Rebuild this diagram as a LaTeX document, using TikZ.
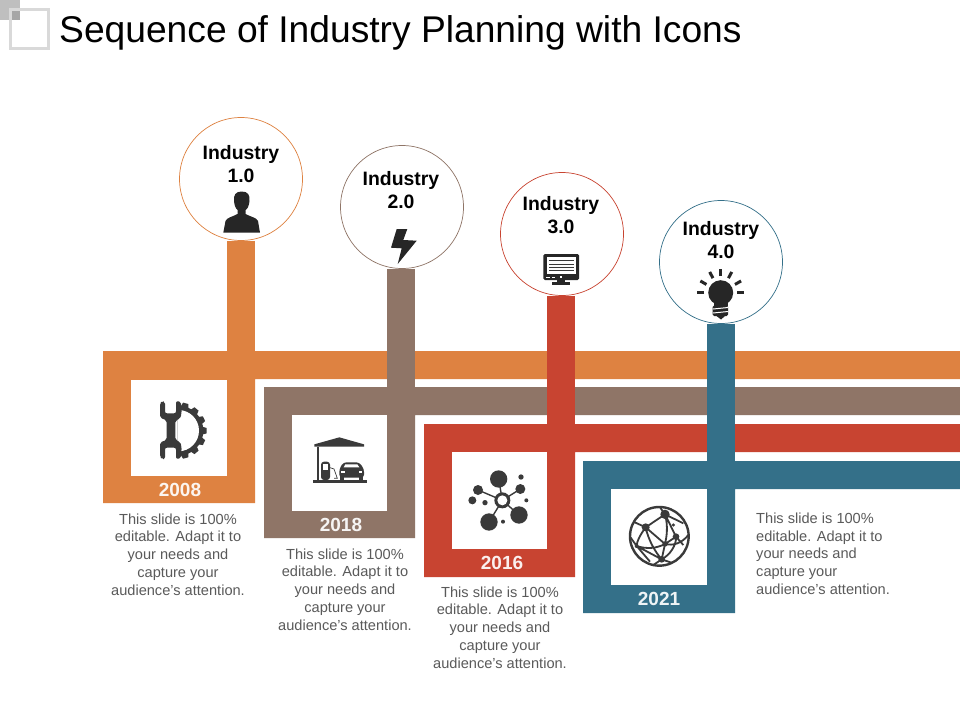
\documentclass[tikz,border=0pt]{standalone}
\usepackage{fontspec}
\setmainfont{Liberation Sans}
\definecolor{cOr}{HTML}{DE8241}
\definecolor{cBr}{HTML}{8F7567}
\definecolor{cRe}{HTML}{C84431}
\definecolor{cBl}{HTML}{347089}
\definecolor{cIc}{HTML}{3A3A3A}
\definecolor{cTx}{HTML}{5A5A5A}
\definecolor{cPe}{HTML}{262626}
\tikzset{
  x=1pt,y=-1pt,
  whitebox/.style={fill=white,draw=none,minimum width=96pt,minimum height=96pt,inner sep=0,anchor=north west},
  ring/.style={circle,fill=white,draw=#1,line width=0.7pt,minimum size=123pt,inner sep=0},
  stem/.style={line width=28pt,draw=#1,line cap=butt},
  lab/.style={font=\fontsize{19.4}{23}\selectfont\bfseries,text=black,align=center,inner sep=0},
  yearlab/.style={font=\fontsize{19}{22}\selectfont\bfseries,text=#1,inner sep=0},
  body/.style={font=\fontsize{14.6}{17.8}\selectfont,text=cTx,align=center,inner sep=0},
  zoomA/.style={shift={(100,345)},scale=1/3},
  zoomB/.style={shift={(420,420)},scale=1/3},
}
\begin{document}
\begin{tikzpicture}
\useasboundingbox (0,0) rectangle (960,720);
\fill[white] (0,0) rectangle (960,720);
% corner marks
\fill[black!25] (0,0) rectangle (20,20);
\draw[black!15,line width=3pt] (10.5,9.5) rectangle (48.5,48.5);
\fill[black!35] (12,11) rectangle (20,20);
\node[anchor=base west,inner sep=0,font=\fontsize{37.2}{40}\selectfont,text=black] (title) at (59,42) {Sequence of Industry Planning with Icons};

% frames
\fill[cOr] (960,351) -- (103,351) -- (103,503) -- (255,503) -- (255,379) -- (960,379) -- cycle;
\coordinate (s1) at (241,503);
\fill[cBr] (960,387) -- (264,387) -- (264,538) -- (415,538) -- (415,415) -- (960,415) -- cycle;
\coordinate (s2) at (401,538);
\fill[cRe] (960,424) -- (424,424) -- (424,577) -- (575,577) -- (575,452) -- (960,452) -- cycle;
\coordinate (s3) at (561,577);
\fill[cBl] (960,461) -- (583,461) -- (583,613) -- (735,613) -- (735,489) -- (960,489) -- cycle;
\coordinate (s4) at (721,613);

\node[ring=cOr] (c1) at (241,179) {};
\node[ring=cBr] (c2) at (402,207) {};
\node[ring=cRe] (c3) at (562,234) {};
\node[ring=cBl] (c4) at (721,262) {};
\draw[stem=cOr] (c1.south -| s1) -- (s1);
\draw[stem=cBr] (c2.south -| s2) -- (s2);
\draw[stem=cRe] (c3.south -| s3) -- (s3);
\draw[stem=cBl] (c4.south -| s4) -- (s4);

\node[whitebox] (b1) at (131,380) {};
\node[whitebox,minimum width=95pt] (b2) at (292,415) {};
\node[whitebox,minimum width=95pt,minimum height=97pt] (b3) at (452,452) {};
\node[whitebox] (b4) at (611,489) {};

\node[yearlab=white!92!cOr] (y1) at (180,489.5) {2008};
\node[yearlab=white!92!cBr] (y2) at (341,524.5) {2018};
\node[yearlab=white!92!cRe] (y3) at (502,562.5) {2016};
\node[yearlab=white!92!cBl] (y4) at (659,598.5) {2021};

\node[lab] (l1) at (241,164.2) {Industry\\1.0};
\node[lab] (l2) at (401,190.2) {Industry\\2.0};
\node[lab] (l3) at (561,215.2) {Industry\\3.0};
\node[lab] (l4) at (721,240.4) {Industry\\4.0};

\node[body] (t1) at (178,554.5) {This slide is 100\%\\editable. Adapt it to\\your needs and\\capture your\\audience's attention.};
\node[body] (t2) at (345,589.5) {This slide is 100\%\\editable. Adapt it to\\your needs and\\capture your\\audience's attention.};
\node[body] (t3) at (500,627.5) {This slide is 100\%\\editable. Adapt it to\\your needs and\\capture your\\audience's attention.};
\node[body,align=left,anchor=north west] (t4) at (756,512.5) {This slide is 100\%\\editable. Adapt it to\\your needs and\\capture your\\audience's attention.};

% person
\fill[cPe] (241.7,191.5) .. controls (235.5,191.5) and (233.5,195) .. (234,201) .. controls (234.5,206) and (236,209) .. (237.5,210) -- (237.5,214) .. controls (232,217) and (227,217.5) .. (225.5,221) -- (223.3,232.7) -- (260,232.7) -- (258,221) .. controls (256.5,217.5) and (251,217) .. (245.5,214) -- (245.5,210) .. controls (247.5,209) and (249,206) .. (249.5,201) .. controls (250,195) and (248,191.5) .. (241.7,191.5) -- cycle;
% bolt
\fill[cPe] (396.7,229) -- (407.3,229) -- (403.3,240) -- (416.7,240.7) -- (397.7,264) -- (401.7,248.3) -- (391,247.7) -- cycle;
% monitor
\fill[cPe,rounded corners=1.5pt] (543.3,254) rectangle (579,280);
\fill[white] (546.7,257.3) rectangle (576,274);
\foreach \yy in {260,263.5,267,270}{\fill[cIc] (549,\yy) rectangle (574,\yy+0.8);}
\fill[cPe] (556.5,280) rectangle (565,282.5);
\fill[cPe] (552,282.3) rectangle (570,284.7);
\fill[white] (546,276.5) rectangle (550,277.3);
\fill[white] (551.5,276.5) rectangle (555,277.3);
\fill[white] (560,276) rectangle (561.5,277.5);
% bulb
\fill[cPe] (720.7,292.7) circle (12.5);
\fill[cPe] (714,300) rectangle (727.5,306);
\fill[cPe,rounded corners=1.5pt] (712.7,305.5) rectangle (728,316);
\fill[white] (713,308.5) -- (728,307) -- (728,308) -- (713,309.5) -- cycle;
\fill[white] (713,312.5) -- (728,311) -- (728,312) -- (713,313.5) -- cycle;
\fill[cPe] (716.5,316) -- (725,316) -- (721,319.5) -- cycle;
\foreach \aa in {0,30,62,90,118,150,180}{
  \draw[cPe,line width=3pt,shift={(720.7,292.7)}] (-\aa:16.5) -- (-\aa:23.5);
}
% gear + wrench
\begin{scope}[zoomA]
\begin{scope}
\clip (232,150) rectangle (340,360);
\foreach \aa in {-75,-50,-25,0,25,50,75}{
  \fill[cIc,rotate around={\aa:(235,257)}] (300,243) -- (320,249) -- (320,265) -- (300,271) -- cycle;
}
\fill[cIc] (235,257) circle (75);
\fill[white] (235,257) circle (62);
\end{scope}
\fill[cIc,rounded corners=2pt] (180,174) -- (186,168) -- (195,170) -- (195,205) -- (228,205) -- (228,168) -- (243,170) -- (245,205) -- (240,222) -- (226,226) -- (226,285) -- (240,290) -- (245,305) -- (243,340) -- (228,342) -- (228,308) -- (195,308) -- (195,342) -- (186,342) -- (180,336) -- (180,292) -- (200,285) -- (200,226) -- (180,218) -- cycle;
\end{scope}
% gas station
\begin{scope}[zoomA]
\fill[cIc] (643,298) -- (718,277) -- (792,298) -- (792,305) -- (643,305) -- cycle;
\fill[cIc] (650,305) rectangle (658,405);
\fill[cIc] (640,405) rectangle (800,415);
\fill[cIc,rounded corners=3pt] (663,350) -- (690,350) -- (690,405) -- (663,405) -- cycle;
\fill[white] (668,358) rectangle (685,375);
\draw[cIc,line width=0.7pt] (690,368) -- (702,372) -- (712,400) -- (702,400);
\fill[cIc,rounded corners=3pt] (718,372) -- (730,352) -- (778,352) -- (792,372) -- (792,398) -- (718,398) -- cycle;
\fill[white] (736,358) -- (772,358) -- (778,367) -- (731,367) -- cycle;
\fill[white] (734,399) rectangle (776,404);
\fill[cIc] (720,396) rectangle (733,405);
\fill[cIc] (777,396) rectangle (790,405);
\fill[white] (724,378) rectangle (734,384);
\fill[white] (776,378) rectangle (786,384);
\end{scope}
% network
\begin{scope}[zoomB]
\foreach \px/\py in {236/177,174/210,301/207,297/285,207/306}{
  \draw[cIc,line width=1.4pt] (247,241) -- (\px,\py);
}
\foreach \px/\py/\pr in {236/177/26,174/210/15,157/241/12,301/207/15,303/171/8,319/241/6,195/248/8,297/285/26,207/306/26,249/305/6}{
  \fill[cIc] (\px,\py) circle (\pr);
}
\fill[cIc] (247,241) circle (24);
\fill[white] (247,241) circle (15);
\end{scope}
% globe
\begin{scope}[zoomB]
\draw[cIc,line width=2.4pt] (718,349) circle (88);
\begin{scope}
\clip (718,349) circle (88);
\draw[cIc,line width=1.8pt]
  (735,283) -- (677,322) -- (640,305)
  (735,283) .. controls (745,320) and (740,350) .. (735,372)
  (735,283) -- (768,350) -- (790,375)
  (735,283) -- (720,262)
  (735,283) -- (790,310)
  (677,322) -- (735,372)
  (677,322) .. controls (660,345) and (650,365) .. (650,378)
  (677,322) .. controls (685,360) and (705,395) .. (725,418)
  (650,378) .. controls (680,388) and (710,385) .. (735,372) -- (768,350)
  (735,372) .. controls (760,378) and (785,370) .. (805,345)
  (735,372) -- (725,418) -- (760,430)
  (725,418) -- (650,378) -- (630,350)
  (768,350) .. controls (770,375) and (750,405) .. (725,418)
  (725,418) -- (700,435)
  (650,378) -- (690,425);
\end{scope}
\foreach \px/\py/\pr in {735/283/14,677/322/12,768/350/10,735/372/8,725/418/10,760/315/5,650/378/6}{
  \fill[cIc] (\px,\py) circle (\pr);
}
\end{scope}
\end{tikzpicture}
\end{document}
